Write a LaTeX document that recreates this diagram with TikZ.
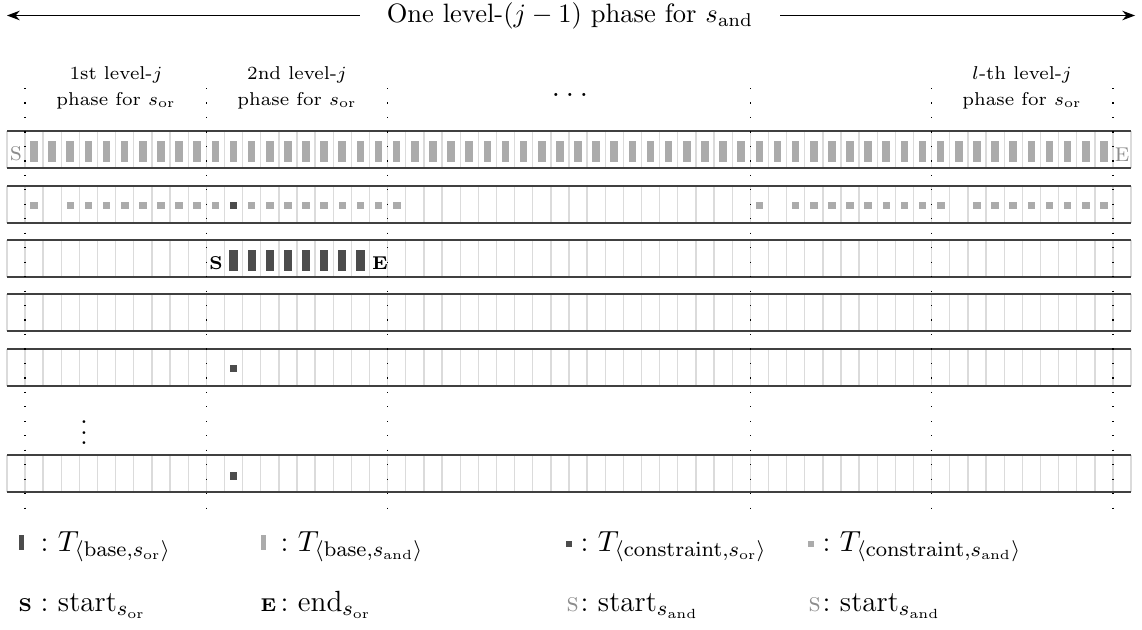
\documentclass[tikz,border=0pt]{standalone}
\usetikzlibrary{arrows.meta}
\definecolor{andgray}{gray}{0.67}
\definecolor{orgray}{gray}{0.3}
\definecolor{gridgray}{gray}{0.86}
\definecolor{textgray}{gray}{0.55}
\tikzset{
  rowline/.style={black!75, line width=0.6pt},
  gridline/.style={gridgray, line width=0.5pt},
  phaseline/.style={black, line width=0.45pt, dash pattern=on 0.45pt off 5pt},
  hdr/.style={font=\scriptsize, inner sep=0pt, anchor=base},
  legtext/.style={anchor=base west, inner sep=0pt, font=\fontsize{11}{13}\selectfont},
  legsym/.style={anchor=base west, inner sep=0pt},
}
\newcommand{\bsc}[1]{{\scriptsize\bfseries #1}}
\begin{document}
\begin{tikzpicture}[x=0.3767pt, y=-0.3767pt, >=Stealth]
\useasboundingbox (0,0) rectangle (1142,630);
% title arrow
\node[inner xsep=10pt, inner ysep=0pt] (title) at (570,15.5) {One level-$(j-1)$ phase for $s_{\mathrm{and}}$};
\coordinate (tl) at (7,15.5);
\coordinate (tr) at (1135,15.5);
\draw[->] (title.west) -- (tl);
\draw[->] (title.east) -- (tr);
% phase headers
\node[hdr] (hA) at (116,79) {1st level-$j$};
\node[hdr] (pA) at (116,105) {phase for $s_{\mathrm{or}}$};
\node[hdr] (hB) at (297,79) {2nd level-$j$};
\node[hdr] (pB) at (297,105) {phase for $s_{\mathrm{or}}$};
\node[anchor=base, inner sep=0pt] (hdots) at (570,96) {\large$\dots$};
\node[hdr] (hL) at (1022,79) {$l$-th level-$j$};
\node[hdr] (pL) at (1022,105) {phase for $s_{\mathrm{or}}$};
% rows
\foreach \ry in {131,186,240,294,349,455}{
  \draw[gridline] foreach \k in {0,...,60}{ ({25+18.133*\k},\ry) -- ++(0,37) };
  \draw[gridline] (7,\ry) -- ++(0,37) (1131,\ry) -- ++(0,37);
  \draw[rowline] (7,\ry) -- (1131,\ry) (7,\ry+37) -- (1131,\ry+37);
}
% row 1: base of s_and
\node[text=textgray, inner sep=0pt] (sA) at (16,154) {\textsc{s}};
\node[text=textgray, inner sep=0pt] (eA) at (1122,155) {\textsc{e}};
\foreach \k in {0,...,59}
  \fill[andgray] ({25+18.133*\k+5.2},141) rectangle ++(7.6,21);
% row 2: constraints
\foreach \k in {0,2,3,...,10,12,13,...,20,40,42,43,...,50,52,53,...,59}
  \fill[andgray] ({25+18.133*\k+5.3},201.5) rectangle ++(7.6,7.6);
\fill[orgray] ({25+18.133*11+5.3},201.5) rectangle ++(7.6,7.6);
% row 3: base of s_or
\node[inner sep=0pt] (sB) at (216,263) {\bsc{S}};
\node[inner sep=0pt] (eB) at (380,263) {\bsc{E}};
\foreach \k in {11,...,18}
  \fill[orgray] ({25+18.133*\k+5},250) rectangle ++(8.2,21);
% rows 5 and last
\fill[orgray] ({25+18.133*11+5.3},364.5) rectangle ++(7.6,7.6);
\fill[orgray] ({25+18.133*11+5.3},472) rectangle ++(7.6,7.6);
\node (vd) at (84,425) {$\vdots$};
% phase boundaries
\foreach \k in {0,10,20,40,50,60}
  \draw[phaseline] ({25+18.133*\k},88) -- ({25+18.133*\k},512);
% legend
\fill[orgray] (19,535) rectangle (24,550);
\node[legtext] (lA) at (40,551) {:\ $T_{\langle\mathrm{base},s_{\mathrm{or}}\rangle}$};
\fill[andgray] (261,535) rectangle (266,550);
\node[legtext] (lB) at (280,551) {:\ $T_{\langle\mathrm{base},s_{\mathrm{and}}\rangle}$};
\fill[orgray] (566,541) rectangle ++(6,6);
\node[legtext] (lC) at (580,551) {:\ $T_{\langle\mathrm{constraint},s_{\mathrm{or}}\rangle}$};
\fill[andgray] (808,541) rectangle ++(6,6);
\node[legtext] (lD) at (822,551) {:\ $T_{\langle\mathrm{constraint},s_{\mathrm{and}}\rangle}$};
\node[legsym] (kA) at (18,611) {\bsc{S}};
\node[legtext] (mA) at (40,611) {:\ start$_{s_{\mathrm{or}}}$};
\node[legsym] (kB) at (260,611) {\bsc{E}};
\node[legtext] (mB) at (280,611) {:\ end$_{s_{\mathrm{or}}}$};
\node[legsym, text=textgray] (kC) at (566,611) {\textsc{s}};
\node[legtext] (mC) at (580,611) {:\ start$_{s_{\mathrm{and}}}$};
\node[legsym, text=textgray] (kD) at (808,611) {\textsc{s}};
\node[legtext] (mD) at (822,611) {:\ start$_{s_{\mathrm{and}}}$};
\end{tikzpicture}
\end{document}
